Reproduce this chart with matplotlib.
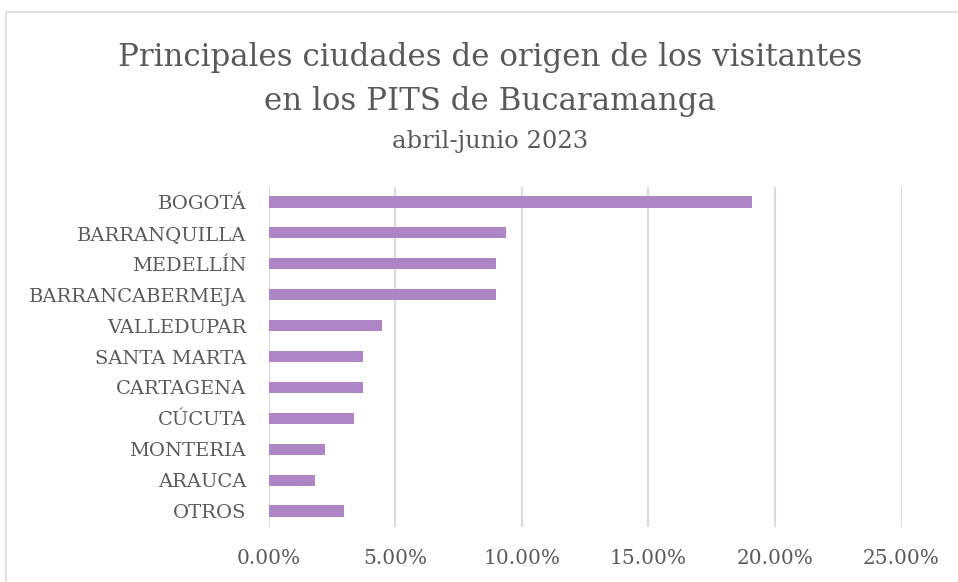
import matplotlib
matplotlib.use("Agg")
import matplotlib.pyplot as plt
from matplotlib.ticker import FuncFormatter, MultipleLocator
from matplotlib.patches import Rectangle

categories = ["BOGOTÁ", "BARRANQUILLA", "MEDELLÍN", "BARRANCABERMEJA", "VALLEDUPAR",
              "SANTA MARTA", "CARTAGENA", "CÚCUTA", "MONTERIA", "ARAUCA", "OTROS"]
values = [0.1911, 0.0937, 0.0898, 0.0898, 0.0448, 0.0372, 0.0372, 0.0336, 0.0223, 0.0185, 0.0298]

title_line1 = "Principales ciudades de origen de los visitantes"
title_line2 = "en los PITS de Bucaramanga"
subtitle = "abril-junio 2023"

W, H = 958, 582
fig = plt.figure(figsize=(W/100, H/100), dpi=100)
fig.patch.set_facecolor("white")

font = "DejaVu Serif"
txt_color = "#595959"

# chart border
fig.add_artist(Rectangle((6/W, -0.1), 1.2, 1 - 12/H + 0.1, transform=fig.transFigure,
                         fill=False, edgecolor="#D9D9D9", linewidth=1.2))

ax = fig.add_axes([268.5/W, 1 - 526.5/H, (901.5-268.5)/W, (526.5-186.5)/H])
y = list(range(len(categories)))
ax.barh(y, values, height=0.36, color="#AE86C6", zorder=3)
ax.set_ylim(len(categories) - 0.5, -0.5)
ax.set_xlim(0, 0.25)
ax.set_yticks(y)
ax.set_yticklabels(categories, fontfamily=font, fontsize=14, color=txt_color)
ax.xaxis.set_major_locator(MultipleLocator(0.05))
ax.xaxis.set_major_formatter(FuncFormatter(lambda v, p: f"{v*100:.2f}%"))
for lbl in ax.get_xticklabels():
    lbl.set_fontfamily(font)
    lbl.set_fontsize(14.5)
    lbl.set_color(txt_color)
ax.tick_params(axis="both", length=0)
ax.tick_params(axis="y", pad=16)
ax.tick_params(axis="x", pad=16)
ax.grid(axis="x", color="#D9D9D9", linewidth=1.5, zorder=0)
for s in ax.spines.values():
    s.set_visible(False)

cx = 490 / W
fig.text(cx, 1 - 66/H, title_line1, ha="center", va="baseline", fontfamily=font,
         fontsize=22.2, color=txt_color)
fig.text(cx, 1 - 110/H, title_line2, ha="center", va="baseline", fontfamily=font,
         fontsize=22.2, color=txt_color)
fig.text(cx, 1 - 148/H, subtitle, ha="center", va="baseline", fontfamily=font,
         fontsize=17.5, color=txt_color)

fig.savefig("out.png", dpi=100)
